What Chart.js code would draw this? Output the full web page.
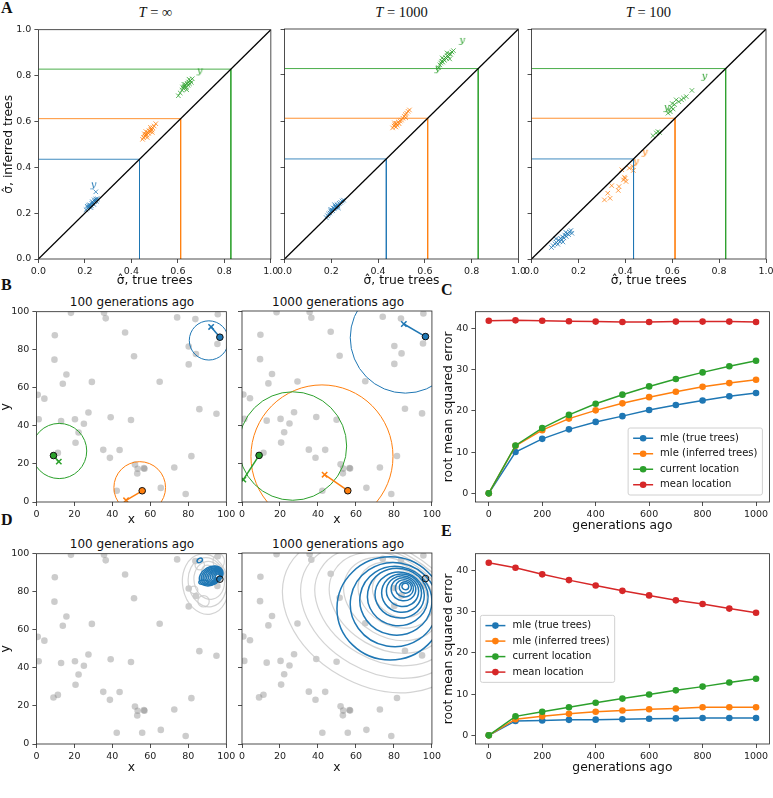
<!DOCTYPE html>
<html>
<head>
<meta charset="utf-8">
<script src="https://cdn.jsdelivr.net/npm/chart.js@4.4.1/dist/chart.umd.min.js"></script>
<style>
  body { margin: 0; width: 773px; height: 798px; position: relative; overflow: hidden; background: #fff; }
  .wrap { position: absolute; }
  .txt { position: absolute; white-space: nowrap; color: #111; font-family: "DejaVu Sans", sans-serif; }
  .letter { font-family: "Liberation Serif", serif; font-weight: bold; font-size: 16px; line-height: 19px; }
  .ttl { font-size: 12px; line-height: 14px; text-align: center; }
  .math { font-family: "Liberation Serif", serif; font-size: 14.5px; line-height: 17px; text-align: center; }
</style>
</head>
<body>
<div class="txt letter" style="left:1px;top:-2px">A</div>
<div class="txt letter" style="left:1px;top:275px">B</div>
<div class="txt letter" style="left:441px;top:280px">C</div>
<div class="txt letter" style="left:1px;top:510px">D</div>
<div class="txt letter" style="left:441px;top:521px">E</div>

<div class="txt math" style="left:38px;width:235px;top:4px"><i>T</i> = ∞</div>
<div class="txt math" style="left:284px;width:235px;top:4px"><i>T</i> = 1000</div>
<div class="txt math" style="left:531px;width:235px;top:4px"><i>T</i> = 100</div>

<div class="txt ttl" style="left:36px;width:192px;top:295px">100 generations ago</div>
<div class="txt ttl" style="left:242px;width:192px;top:295px">1000 generations ago</div>
<div class="txt ttl" style="left:36px;width:192px;top:537px">100 generations ago</div>
<div class="txt ttl" style="left:242px;width:192px;top:537px">1000 generations ago</div>

<script>
// ---- panel A: dispersal estimates, inferred vs true trees ----
const trueSigma = [0.435, 0.612, 0.828];
const unitTicks = [0, 0.2, 0.4, 0.6, 0.8, 1.0];

// T = infinity
const a1Blue = [[0.205,0.215],[0.212,0.222],[0.218,0.228],[0.222,0.236],[0.228,0.232],[0.230,0.242],[0.235,0.245],[0.238,0.238],[0.242,0.250],[0.246,0.256],[0.250,0.252],[0.254,0.262],[0.216,0.235],[0.226,0.224],[0.240,0.258],[0.210,0.230],[0.232,0.250],[0.248,0.262],[0.247,0.293]];
const a1Orange = [[0.448,0.522],[0.452,0.530],[0.458,0.536],[0.462,0.544],[0.466,0.540],[0.470,0.552],[0.474,0.548],[0.476,0.560],[0.480,0.556],[0.484,0.566],[0.488,0.562],[0.492,0.572],[0.498,0.580],[0.505,0.590],[0.456,0.546],[0.468,0.530],[0.482,0.574],[0.490,0.552],[0.462,0.556]];
const a1Green = [[0.602,0.712],[0.610,0.724],[0.618,0.736],[0.624,0.744],[0.628,0.752],[0.632,0.760],[0.636,0.748],[0.640,0.766],[0.644,0.758],[0.646,0.772],[0.650,0.764],[0.654,0.778],[0.658,0.770],[0.662,0.786],[0.626,0.762],[0.638,0.738],[0.648,0.784],[0.620,0.750]];
const a1Y = [[[0.237,0.319]], [], [[0.694,0.816]]];

// T = 1000
const a2Blue = [[0.178,0.180],[0.184,0.188],[0.188,0.196],[0.194,0.200],[0.198,0.208],[0.202,0.214],[0.206,0.210],[0.208,0.222],[0.212,0.218],[0.216,0.228],[0.220,0.226],[0.224,0.236],[0.228,0.232],[0.234,0.242],[0.240,0.246],[0.246,0.252],[0.252,0.256],[0.196,0.214],[0.214,0.236],[0.230,0.222]];
const a2Orange = [[0.462,0.570],[0.468,0.578],[0.472,0.584],[0.476,0.574],[0.478,0.590],[0.482,0.582],[0.486,0.596],[0.490,0.588],[0.494,0.600],[0.500,0.604],[0.506,0.612],[0.512,0.620],[0.516,0.628],[0.522,0.634],[0.528,0.642],[0.534,0.648],[0.470,0.592],[0.518,0.614]];
const a2Green = [[0.658,0.832],[0.664,0.844],[0.668,0.852],[0.672,0.860],[0.676,0.856],[0.680,0.868],[0.684,0.864],[0.688,0.876],[0.692,0.872],[0.696,0.884],[0.700,0.880],[0.704,0.892],[0.710,0.890],[0.716,0.900],[0.722,0.906],[0.674,0.874],[0.694,0.896],[0.706,0.870]];
const a2Y = [[], [], [[0.759,0.946],[0.654,0.823]]];

// T = 100
const a3Blue = [[0.085,0.050],[0.092,0.058],[0.100,0.066],[0.106,0.072],[0.112,0.064],[0.116,0.082],[0.120,0.076],[0.124,0.090],[0.128,0.084],[0.132,0.096],[0.138,0.092],[0.142,0.104],[0.148,0.098],[0.152,0.110],[0.158,0.106],[0.162,0.118],[0.168,0.124],[0.104,0.088],[0.134,0.074],[0.146,0.116],[0.172,0.112]];
const a3Orange = [[0.311,0.257],[0.335,0.264],[0.325,0.286],[0.342,0.319],[0.370,0.298],[0.373,0.315],[0.392,0.344],[0.399,0.351],[0.403,0.337],[0.396,0.356],[0.385,0.388],[0.417,0.395],[0.434,0.385],[0.432,0.402]];
const a3Green = [[0.582,0.634],[0.588,0.648],[0.596,0.660],[0.604,0.652],[0.610,0.672],[0.617,0.692],[0.628,0.684],[0.640,0.692],[0.648,0.700],[0.660,0.706],[0.684,0.733],[0.600,0.676],[0.592,0.640],[0.518,0.536],[0.532,0.548],[0.539,0.554],[0.546,0.550]];
const a3Y = [[], [[0.445,0.419],[0.483,0.460]], [[0.737,0.790],[0.576,0.654]]];

// ---- panels B and D: sample locations ----
const mapTicks = [0, 20, 40, 60, 80, 100];
const samples = [[18.2,99.4],[35.6,99.5],[36.5,96.5],[74.1,97.0],[83.7,96.1],[95.5,98.7],[9.7,87.6],[46.7,89.1],[9.5,74.8],[80.2,81.7],[84.0,77.8],[95.3,83.0],[51.4,76.6],[80.2,72.3],[15.8,67.0],[13.9,62.1],[29.2,63.1],[64.9,63.2],[0.7,56.3],[4.2,54.3],[85.8,48.8],[94.8,46.4],[1.2,43.5],[27.4,47.0],[13.0,42.6],[20.3,43.5],[25.0,41.1],[39.1,44.5],[49.8,43.1],[22.2,36.5],[20.6,31.1],[9.0,24.4],[11.3,25.8],[35.2,27.4],[43.8,27.3],[38.7,23.2],[51.9,19.7],[53.3,17.5],[53.1,15.0],[56.6,17.8],[56.9,17.5],[81.6,24.1],[72.6,18.1],[42.3,5.9],[55.7,5.9],[65.5,7.4],[78.6,4.2],[96.6,86.6]];
const focal = [[96.6,86.6],[55.7,5.9],[9.0,24.4]];
const b1Est = [[92.0,92.0],[47.2,0.9],[11.8,21.2]];
const b2Est = [[85.2,93.2],[43.5,14.3],[0.7,11.7]];
// [centre x, centre y, radius]
const b1Rings = [[90.8,84.9,10.3],[54.4,7.6,13.6],[12.0,26.8,14.5]];
const b2Rings = [[86.0,86.0,29.0],[42.1,23.9,37.4],[26.7,29.3,28.4]];
// density contours: [centre x, centre y, half width, half height, tilt deg]
const d1Grey = [[89,84,12,16,-10],[90,85,10,13,-10],[91,86,8,10,-10],[88,75,3,3,0],[86,94,2.5,2.5,0],[96,96,3,4,0],[90,91,3,3,0],[83,81,2,2,0]];
const d1Blue = [[92,88.3,6.6,4.7,-30],[92.4,88.3,6,4.3,-30],[92.8,88.3,5.4,3.9,-30],[93.2,88.3,4.8,3.5,-30],[93.6,88.3,4.2,3.1,-30],[94,88.3,3.6,2.7,-30],[94.4,88.3,3,2.3,-30],[94.8,88.3,2.4,1.9,-30],[95.1,88.3,1.8,1.4,-30],[95.3,88.3,1.2,0.9,-30],[86,96.5,1.5,1.1,-30],[88,85,2.5,1.2,0]];
const d2Grey = [[70,68,52,37,30],[73,70,45,32,30],[75,72,39,28,30],[77,74,33,24,30],[79,76,27,20,30],[81,78,21,16,30],[83,79,15,12,30]];
const d2Blue = [[78,71,28,27,0],[80,73,23,22,10],[81,75,19,18,10],[82,77,16,15,10],[83,78,13,12,10],[84,79,10.5,10,10],[84.5,80,8.5,8,10],[85,81,6.5,6,10],[85.5,81.5,4.8,4.5,10],[86,82,3.2,3,10],[86,82.5,1.8,1.7,10]];

// ---- panels C and E: error through time ----
const gens = [0, 100, 200, 300, 400, 500, 600, 700, 800, 900, 1000];
const genTicks = [0, 200, 400, 600, 800, 1000];
const errTicks = [0, 10, 20, 30, 40];
const seriesNames = ['mle (true trees)', 'mle (inferred trees)', 'current location', 'mean location'];
const cTrue = [0, 10.0, 13.2, 15.5, 17.3, 18.7, 20.2, 21.4, 22.5, 23.5, 24.3];
const cInferred = [0, 11.5, 15.3, 18.1, 20.1, 21.8, 23.3, 24.6, 25.8, 26.7, 27.5];
const cCurrent = [0, 11.6, 15.8, 19.0, 21.7, 23.9, 25.9, 27.7, 29.3, 30.8, 32.1];
const cMean = [41.8, 41.9, 41.8, 41.7, 41.6, 41.5, 41.5, 41.6, 41.6, 41.6, 41.5];
const eTrue = [0, 3.5, 3.6, 3.75, 3.8, 3.9, 4.0, 4.1, 4.2, 4.2, 4.2];
const eInferred = [0, 3.9, 4.6, 5.2, 5.7, 6.0, 6.3, 6.5, 6.8, 6.8, 6.8];
const eCurrent = [0, 4.6, 5.7, 6.8, 7.9, 8.9, 9.9, 10.9, 11.8, 12.8, 13.7];
const eMean = [41.8, 40.6, 39.0, 37.6, 36.3, 35.0, 33.9, 32.7, 31.8, 30.7, 29.7];

const palette = ['#1f77b4', '#ff7f0e', '#2ca02c', '#d62728'];
const ink = '#222';

const pts = arr => arr.map(([x, y]) => ({x, y}));
function fade(hex, a) {
  const n = parseInt(hex.slice(1), 16);
  return `rgba(${n >> 16},${(n >> 8) & 255},${n & 255},${a})`;
}
function glyph(ch, color) {
  const c = document.createElement('canvas');
  c.width = 9; c.height = 11;
  const g = c.getContext('2d');
  g.fillStyle = color;
  g.font = 'italic 10px "DejaVu Serif"';
  g.textAlign = 'center'; g.textBaseline = 'middle';
  g.fillText(ch, 4.5, 4.5);
  return c;
}

// black box round every axes
Chart.register({
  id: 'frame',
  afterDraw(chart) {
    const {ctx, chartArea: a} = chart;
    ctx.save();
    ctx.strokeStyle = ink; ctx.lineWidth = 0.8;
    ctx.strokeRect(a.left, a.top, a.right - a.left, a.bottom - a.top);
    ctx.restore();
  }
});

function axis(min, max, ticks, o) {
  return {
    type: 'linear', min, max,
    afterBuildTicks: s => { s.ticks = ticks.map(v => ({value: v})); },
    grid: {drawOnChartArea: false, drawTicks: true, tickLength: 4, tickWidth: 0.8, color: ink},
    border: {display: false},
    ticks: {display: o.labels !== false, padding: 3, color: ink, font: {family: 'DejaVu Sans', size: 9.5},
            maxRotation: 0, autoSkip: false, callback: o.fmt || (v => v)},
    title: {display: !!o.title, text: o.title || '', color: '#111', padding: 0,
            font: {family: 'DejaVu Sans', size: 12.3}}
  };
}

// rect = plot area [left, top, right, bottom], box = canvas [left, top, right, bottom]
function makeChart(rect, box, datasets, xs, ys, plugins) {
  const [L, T, R, B] = rect, [cl, ct, cr, cb] = box;
  const div = document.createElement('div');
  div.className = 'wrap';
  Object.assign(div.style, {left: cl + 'px', top: ct + 'px', width: (cr - cl) + 'px', height: (cb - ct) + 'px'});
  const cv = document.createElement('canvas');
  div.appendChild(cv);
  document.body.appendChild(div);
  xs.afterFit = s => { s.height = cb - B; };
  ys.afterFit = s => { s.width = L - cl; };
  return new Chart(cv, {
    type: 'scatter',
    data: {datasets},
    options: {
      responsive: true, maintainAspectRatio: false, animation: false, events: [],
      layout: {padding: {left: 0, top: T - ct, right: cr - R, bottom: 0}},
      plugins: {legend: {display: false}, tooltip: {enabled: false}},
      scales: {x: xs, y: ys}
    },
    plugins: plugins || []
  });
}

// ---------- A ----------
function sigmaPanel(rect, box, clusters, yMarks, first) {
  const ds = [];
  ds.push({data: pts([[0, 0], [1, 1]]), showLine: true, borderColor: '#000', borderWidth: 1.3, pointRadius: 0});
  trueSigma.forEach((s, i) => ds.push({data: pts([[0, s], [s, s], [s, 0]]), showLine: true,
    borderColor: fade(palette[i], 0.85), borderWidth: 1, pointRadius: 0}));
  clusters.forEach((c, i) => ds.push({data: pts(c), pointStyle: 'crossRot', pointRadius: 3.2,
    borderColor: fade(palette[i], 0.75), borderWidth: 1}));
  yMarks.forEach((c, i) => ds.push({data: pts(c), pointStyle: glyph('y', palette[i]), pointRadius: 4}));
  makeChart(rect, box, ds,
    axis(0, 1, unitTicks, {fmt: v => v.toFixed(1), title: 'σ̂, true trees'}),
    axis(0, 1, unitTicks, {fmt: v => v.toFixed(1), labels: first, title: first ? 'σ̂, inferred trees' : ''}));
}
sigmaPanel([38, 29, 273, 259], [0.6, 21, 281, 288.4], [a1Blue, a1Orange, a1Green], a1Y, true);
sigmaPanel([284, 29, 519, 259], [274, 21, 529, 288.4], [a2Blue, a2Orange, a2Green], a2Y, false);
sigmaPanel([531, 29, 766, 259], [521, 21, 778, 288.4], [a3Blue, a3Orange, a3Green], a3Y, false);

// ---------- B and D ----------
function overlay(draw, after) {
  return {
    id: 'overlay',
    afterDatasetDraw(chart, args) {
      if (args.index !== after) return;
      const {ctx, chartArea: a, scales: {x, y}} = chart;
      const kx = (x.getPixelForValue(100) - x.getPixelForValue(0)) / 100;
      const ky = (y.getPixelForValue(0) - y.getPixelForValue(100)) / 100;
      ctx.save();
      ctx.beginPath(); ctx.rect(a.left, a.top, a.right - a.left, a.bottom - a.top); ctx.clip();
      draw(ctx, x, y, kx, ky);
      ctx.restore();
    }
  };
}
function ringLayer(rings) {
  return (ctx, x, y, kx, ky) => {
    rings.forEach(([cx, cy, r], i) => {
      ctx.strokeStyle = palette[i]; ctx.lineWidth = 1;
      ctx.beginPath();
      ctx.ellipse(x.getPixelForValue(cx), y.getPixelForValue(cy), r * kx, r * ky, 0, 0, 2 * Math.PI);
      ctx.stroke();
    });
  };
}
function contourLayer(grey, blue) {
  return (ctx, x, y, kx, ky) => {
    [[grey, 'rgba(200,200,200,0.8)', 1.2], [blue, palette[0], 1.5]].forEach(([set, col, lw]) => {
      ctx.strokeStyle = col; ctx.lineWidth = lw;
      set.forEach(([cx, cy, rx, ry, rot]) => {
        ctx.beginPath();
        ctx.ellipse(x.getPixelForValue(cx), y.getPixelForValue(cy), rx * kx, ry * ky, rot * Math.PI / 180, 0, 2 * Math.PI);
        ctx.stroke();
      });
    });
  };
}
const greyDots = () => ({data: pts(samples), pointRadius: 3.3, backgroundColor: 'rgba(128,128,128,0.4)', borderWidth: 0});

function mapPanel(rect, box, est, rings, first) {
  const ds = [];
  focal.forEach((f, i) => ds.push({data: pts([f]), pointRadius: 3.3, backgroundColor: palette[i], borderColor: '#111', borderWidth: 1}));
  est.forEach((e, i) => ds.push({data: pts([e]), pointStyle: 'crossRot', pointRadius: 3.8, borderColor: palette[i], borderWidth: 1.5}));
  est.forEach((e, i) => ds.push({data: pts([e, focal[i]]), showLine: true, borderColor: palette[i], borderWidth: 1.5, pointRadius: 0}));
  ds.push(greyDots());
  makeChart(rect, box, ds,
    axis(0, 100, mapTicks, {title: 'x'}),
    axis(0, 100, mapTicks, {labels: first, title: first ? 'y' : ''}),
    [overlay(ringLayer(rings), ds.length - 1)]);
}
mapPanel([36, 311, 228, 502], [-2.4, 303, 238, 527.4], b1Est, b1Rings, true);
mapPanel([242, 311, 434, 502], [232, 303, 444, 527.4], b2Est, b2Rings, false);

function densityPanel(rect, box, grey, blue, first) {
  const ds = [];
  ds.push({data: pts([focal[0]]), pointRadius: 3.3, backgroundColor: 'rgba(0,0,0,0)', borderColor: '#111', borderWidth: 1});
  ds.push(greyDots());
  makeChart(rect, box, ds,
    axis(0, 100, mapTicks, {title: 'x'}),
    axis(0, 100, mapTicks, {labels: first, title: first ? 'y' : ''}),
    [overlay(contourLayer(grey, blue), ds.length - 1)]);
}
densityPanel([36, 553, 228, 744], [-2.4, 545, 238, 775.4], d1Grey, d1Blue, true);
densityPanel([242, 553, 434, 744], [232, 545, 444, 775.4], d2Grey, d2Blue, false);

// ---------- C and E ----------
function boxLegend(anchor) {
  return {
    id: 'boxLegend',
    afterDraw(chart) {
      const {ctx, chartArea: a} = chart;
      const sets = chart.data.datasets;
      ctx.save();
      ctx.font = '10px "DejaVu Sans"';
      const rowH = 15.5, handle = 20, gap = 7;
      const tw = Math.max(...sets.map(d => ctx.measureText(d.label).width));
      const w = 5 + handle + gap + tw + 5, h = sets.length * rowH + 5;
      let x0, y0;
      if (anchor === 'lower right') { x0 = a.right - 7 - w; y0 = a.bottom - 7 - h; }
      else { x0 = a.left + 5; y0 = (a.top + a.bottom) / 2 - h / 2; }
      ctx.fillStyle = 'rgba(255,255,255,0.85)'; ctx.strokeStyle = '#d0d0d0'; ctx.lineWidth = 1;
      ctx.beginPath(); ctx.roundRect(x0, y0, w, h, 2); ctx.fill(); ctx.stroke();
      sets.forEach((d, i) => {
        const cy = y0 + 2.5 + rowH * (i + 0.5);
        ctx.strokeStyle = d.borderColor; ctx.lineWidth = 1.5;
        ctx.beginPath(); ctx.moveTo(x0 + 5, cy); ctx.lineTo(x0 + 5 + handle, cy); ctx.stroke();
        ctx.fillStyle = d.borderColor;
        ctx.beginPath(); ctx.arc(x0 + 5 + handle / 2, cy, 3.3, 0, 2 * Math.PI); ctx.fill();
        ctx.fillStyle = '#111'; ctx.textBaseline = 'middle';
        ctx.fillText(d.label, x0 + 5 + handle + gap, cy);
      });
      ctx.restore();
    }
  };
}
function errorPanel(rect, box, series, anchor) {
  const ds = series.map((vals, i) => ({
    label: seriesNames[i],
    data: gens.map((g, k) => ({x: g, y: vals[k]})),
    showLine: true, borderColor: palette[i], backgroundColor: palette[i], borderWidth: 1.5,
    pointRadius: 3.3, pointBorderWidth: 0, order: series.length - i
  }));
  makeChart(rect, box, ds,
    axis(-50, 1050, genTicks, {title: 'generations ago'}),
    axis(-2.1, 44.0, errTicks, {title: 'root mean squared error'}),
    [boxLegend(anchor)]);
}
errorPanel([475, 311, 769, 502], [440.6, 303, 780, 533.4], [cTrue, cInferred, cCurrent, cMean], 'lower right');
errorPanel([475, 553, 769, 744], [440.6, 545, 780, 775.4], [eTrue, eInferred, eCurrent, eMean], 'center left');
</script>
</body>
</html>
